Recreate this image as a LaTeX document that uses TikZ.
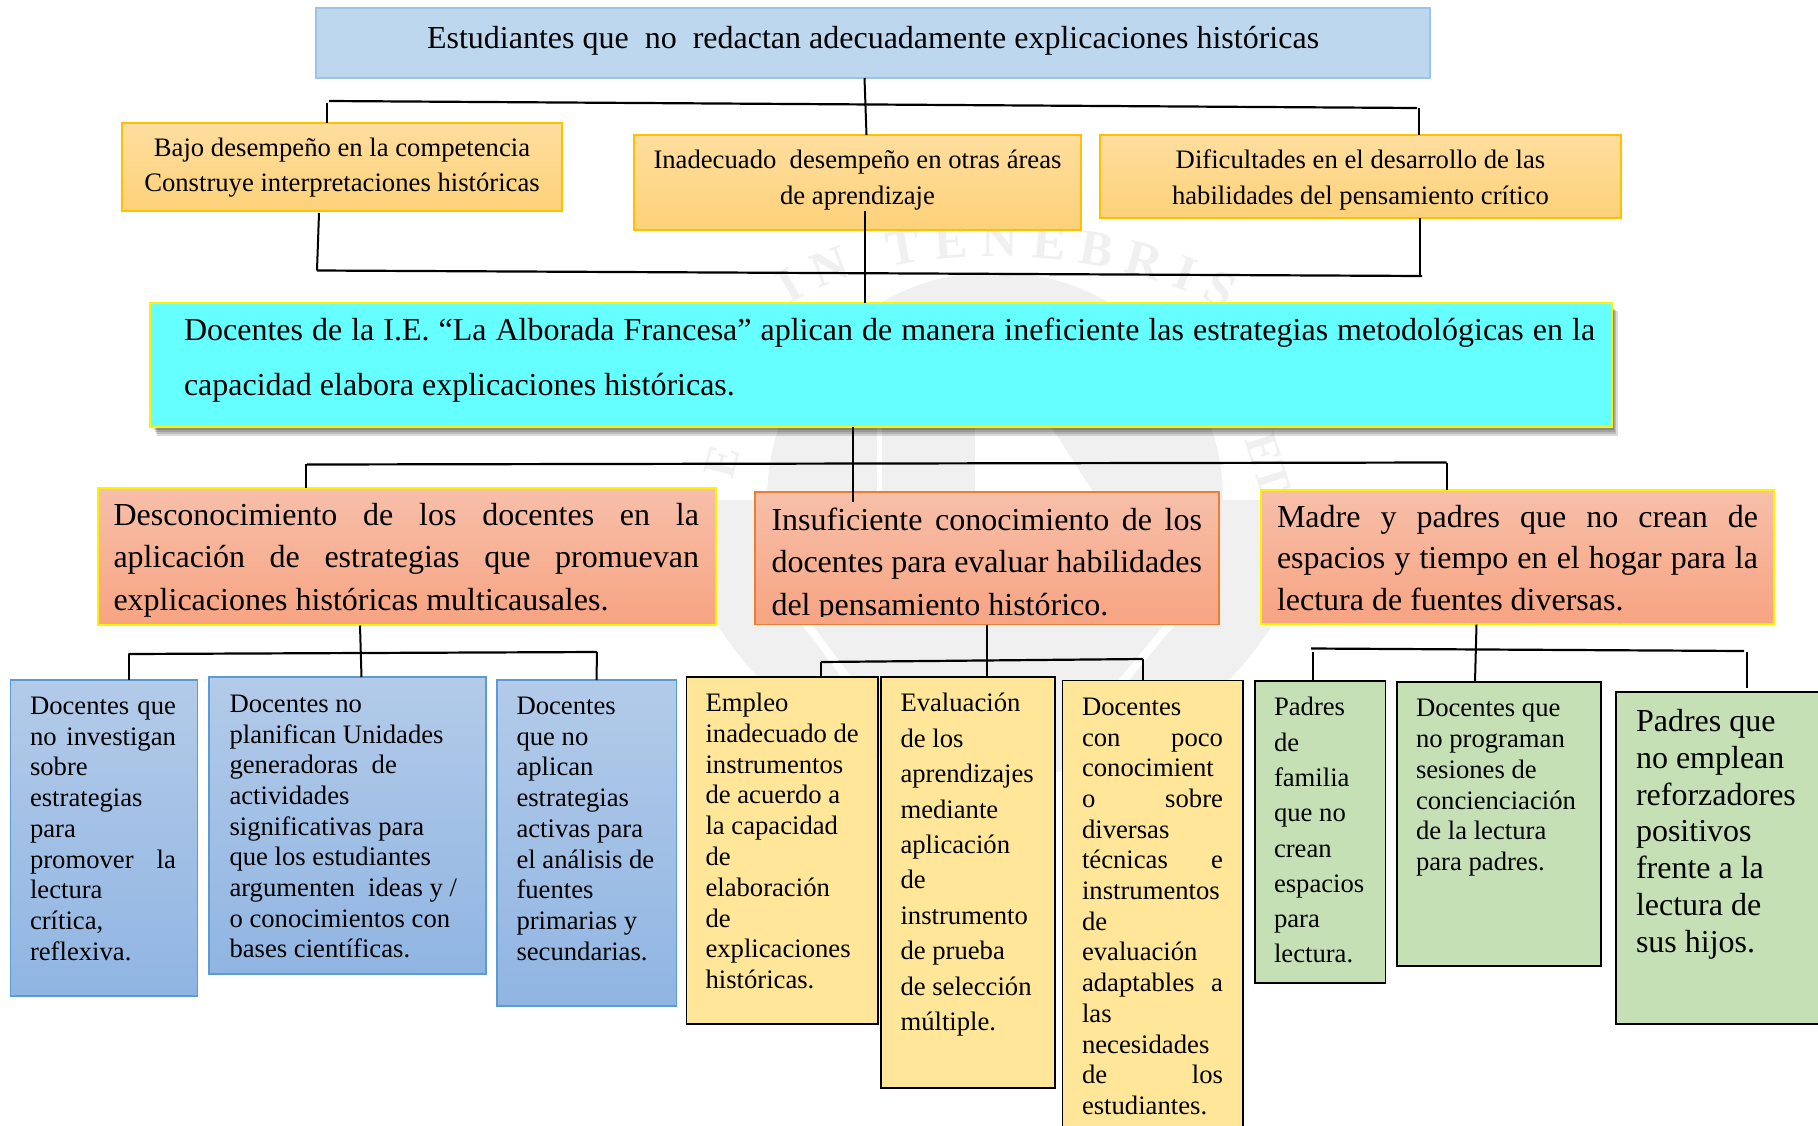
\documentclass[tikz,border=0pt]{standalone}
\usepackage{fontspec}
\setmainfont{Liberation Serif}
\usetikzlibrary{decorations.text}
\definecolor{wm}{HTML}{F0F0F0}
\definecolor{topfill}{HTML}{BDD7EE}
\definecolor{topline}{HTML}{9DC3E6}
\definecolor{orT}{HTML}{FEDE9E}
\definecolor{orB}{HTML}{FDD179}
\definecolor{orL}{HTML}{FFC000}
\definecolor{saT}{HTML}{F7BFA9}
\definecolor{saB}{HTML}{F7A482}
\definecolor{saL}{HTML}{ED7D31}
\definecolor{blT}{HTML}{B3CBE9}
\definecolor{blB}{HTML}{90B5E2}
\definecolor{blL}{HTML}{5B9BD5}
\definecolor{yeF}{HTML}{FFE699}
\definecolor{grF}{HTML}{C5E0B4}
\definecolor{cyF}{HTML}{66FFFF}
\tikzset{
  every node/.style={inner sep=0pt,outer sep=0pt},
  bx/.style={rectangle,anchor=north west},
  bxtop/.style={bx,fill=topfill,draw=topline,line width=2.5pt},
  bxor/.style={bx,top color=orT,bottom color=orB,draw=orL,line width=1.2pt},
  bxcy/.style={bx,fill=cyF,draw=yellow,line width=2pt},
  bxsy/.style={bx,top color=saT,bottom color=saB,draw=yellow,line width=2pt},
  bxso/.style={bx,top color=saT,bottom color=saB,draw=saL,line width=1.2pt},
  bxbl/.style={bx,top color=blT,bottom color=blB,draw=blL,line width=1.2pt},
  bxye/.style={bx,fill=yeF,draw=black,line width=1.8pt},
  bxgr/.style={bx,fill=grF,draw=black,line width=1.8pt},
  conn/.style={draw=black,line width=2pt,line cap=butt},
  rail/.style={draw=black,line width=2.2pt},
  tx/.style={anchor=base west,text=black},
  seal/.style={text=wm,font=\fontsize{46}{46}\selectfont\bfseries}
}
\newcommand{\bxn}[6]{%
  \pgfmathsetmacro{\bw}{#5-#3}\pgfmathsetmacro{\bh}{#6-#4}%
  \node[#1,minimum width=\bw pt,minimum height=\bh pt] (#2) at (#3,#4) {};}
\newcommand{\txn}[7]{%
  \node[tx] (#1) at (#2,#3) {\vtop{\hsize=#4pt\parindent=0pt\fontsize{#5}{#6}\selectfont #7}};}
\newcommand{\txl}[1]{\hbox{#1}}
\newcommand{\txj}[1]{\hbox to\hsize{#1}}
\newcommand{\txc}[1]{\hbox to\hsize{\hfil #1\hfil}}
\begin{document}
\begin{tikzpicture}[x=1pt,y=-1pt]
\useasboundingbox (0,0) rectangle (1818,1125);
\clip (0,0) rectangle (1818,1125);
\fill[white] (0,0) rectangle (1818,1125);
% faint seal
\fill[wm] (995,500) circle (228);
\begin{scope}
\clip (600,500) rectangle (1400,800);
\fill[wm] (995,450) circle (328);
\end{scope}
\draw[white,line width=5pt] (879,425) -- (879,500);
\fill[white] (975,425) -- (1050,425) -- (1095,495) -- (975,495) -- cycle;
\draw[white,line width=8pt] (805,622) -- (850,682);
\draw[white,line width=8pt] (1172,622) -- (1122,682);
\path[decorate,decoration={text along path,text align=fit to path,
  text={|\fontsize{50}{50}\selectfont\bfseries\color{wm}|IN TENEBRIS}}]
  (790,305) .. controls (890,240) and (1100,240) .. (1225,310);
\node[seal,rotate=75] (sealE) at (722,462) {E};
\node[seal,rotate=-72] (sealET) at (1268,464) {ET};
% shadow of the main box
\foreach \s in {1,3,5,7,9}{
  \fill[black,opacity=0.14] (152+\s/2,306+\s/2) rectangle (1612+\s/1.6,427+\s);
}
% boxes
\bxn{bxtop}{top}{316}{8}{1430}{78}
\bxn{bxor}{bajo}{122}{123}{562}{211}
\bxn{bxor}{inad}{634}{135}{1081}{230}
\bxn{bxor}{difi}{1100}{135}{1621}{218}
\bxn{bxcy}{doce}{149.5}{303}{1612}{427}
\bxn{bxsy}{desc}{97.5}{488}{716}{624.5}
\bxn{bxso}{insu}{755}{492}{1219}{624.5}
\bxn{bxsy}{madr}{1261}{490}{1774}{623.5}
\bxn{bxbl}{bA}{10.5}{680}{197.5}{996}
\bxn{bxbl}{bB}{209}{677}{486}{974}
\bxn{bxbl}{bC}{497}{680}{676.5}{1006}
\bxn{bxye}{yA}{686.5}{677}{878}{1024}
\bxn{bxye}{yB}{881}{677}{1055}{1088}
\bxn{bxye}{yC}{1062.5}{680.5}{1243}{1140}
\bxn{bxgr}{gA}{1255}{681}{1385.5}{983}
\bxn{bxgr}{gB}{1397}{682}{1601}{966}
\bxn{bxgr}{gC}{1616}{692}{1835}{1024}
% rail end points
\coordinate (r1a) at (329,101); \coordinate (r1b) at (1417,108);
\coordinate (r1c) at (327,102.5); \coordinate (r1d) at (1419,108);
\coordinate (r2a) at (317,270.5); \coordinate (r2b) at (1422,276);
\coordinate (r3a) at (307,464.5); \coordinate (r3b) at (1446.5,462.5);
\coordinate (r4a) at (128.5,654); \coordinate (r4b) at (597,652);
\coordinate (r5a) at (821,662); \coordinate (r5b) at (1143,659);
\coordinate (r6a) at (1311,648.5); \coordinate (r6b) at (1744,651);
\coordinate (r6c) at (1313,652); \coordinate (r6d) at (1747,652);
% connectors: top level
\draw[rail] (r1a) -- (r1b);
\draw[conn] (top.south -| 864.5,0) -- (inad.north -| 866.5,0);
\draw[conn] (r1c) -- (bajo.north -| r1c);
\draw[conn] (r1d) -- (difi.north -| r1d);
% connectors: second level
\draw[rail] (r2a) -- (r2b);
\draw[conn] (319,213) -- (r2a);
\draw[conn] (1420,218) -- (1420,275);
\draw[conn] (864.5,211) -- (doce.north -| 864.5,0);
% connectors: third level
\draw[rail] (r3a) -- (r3b);
\draw[conn] (853,427) -- (853,502);
\draw[conn] (305.5,463.5) -- (desc.north -| 305.5,0);
\draw[conn] (r3b) -- (madr.north -| r3b);
% connectors: fourth level
\draw[rail] (r4a) -- (r4b);
\draw[conn] (360,625.5) -- (361.5,677);
\draw[conn] (r4a) -- (bA.north -| r4a);
\draw[conn] (r4b) -- (596.5,680);
\draw[rail] (r5a) -- (r5b);
\draw[conn] (insu.south -| 986.5,0) -- (986.5,678);
\draw[conn] (r5a) -- (yA.north -| r5a);
\draw[conn] (r5b) -- (yC.north -| r5b);
\draw[rail] (r6a) -- (r6b);
\draw[conn] (1476.5,624.5) -- (1475,682);
\draw[conn] (r6c) -- (gA.north -| r6c);
\draw[conn] (r6d) -- (1747,688);
% texts
\txn{ttop}{427}{48}{900}{32}{38}{\txl{Estudiantes que\ \ no\ \ redactan adecuadamente explicaciones históricas}}
\txn{tbajo}{122}{156}{440}{26.67}{35}{\txc{Bajo desempeño en la competencia}\txc{Construye interpretaciones históricas}}
\txn{tinad}{634}{168}{447}{26.67}{36}{\txc{Inadecuado\ \ desempeño en otras áreas}\txc{de aprendizaje}}
\txn{tdifi}{1100}{168}{521}{26.67}{36}{\txc{Dificultades en el desarrollo de las}\txc{habilidades del pensamiento crítico}}
\txn{tdoce}{184}{340}{1411}{32}{55}{\txj{Docentes de la I.E. “La Alborada Francesa” aplican de manera ineficiente las estrategias metodológicas en la}\txl{capacidad elabora explicaciones históricas.}}
\txn{tdesc}{113.5}{525}{585.5}{32}{42.6}{\txj{Desconocimiento de los docentes en la}\txj{aplicación de estrategias que promuevan}\txl{explicaciones históricas multicausales.}}
\begin{scope}
\clip (755,492) rectangle (1219,616);
\txn{tinsu}{771.5}{530}{430.5}{32}{42.8}{\txj{Insuficiente conocimiento de los}\txj{docentes para evaluar habilidades}\txl{del pensamiento histórico.}}
\end{scope}
\txn{tmadr}{1277}{527}{481}{32}{41.8}{\txj{Madre y padres que no crean de}\txj{espacios y tiempo en el hogar para la}\txl{lectura de fuentes diversas.}}
\txn{tbA}{30}{714.5}{146}{26.67}{30.7}{\txj{Docentes que}\txj{no investigan}\txl{sobre}\txl{estrategias}\txl{para}\txj{promover la}\txl{lectura}\txl{crítica,}\txl{reflexiva.}}
\txn{tbB}{229.5}{712.3}{240}{26.67}{30.7}{\txl{Docentes no}\txl{planifican Unidades}\txl{generadoras\ \ de}\txl{actividades}\txl{significativas para}\txl{que los estudiantes}\txl{argumenten\ \ ideas y /}\txl{o conocimientos con}\txl{bases científicas.}}
\txn{tbC}{516.5}{714.5}{150}{26.67}{30.7}{\txl{Docentes}\txl{que no}\txl{aplican}\txl{estrategias}\txl{activas para}\txl{el análisis de}\txl{fuentes}\txl{primarias y}\txl{secundarias.}}
\txn{tyA}{705.5}{711.5}{165}{26.67}{30.8}{\txl{Empleo}\txl{inadecuado de}\txl{instrumentos}\txl{de acuerdo a}\txl{la capacidad}\txl{de}\txl{elaboración}\txl{de}\txl{explicaciones}\txl{históricas.}}
\txn{tyB}{900.5}{711.8}{150}{26.67}{35.4}{\txl{Evaluación}\txl{de los}\txl{aprendizajes}\txl{mediante}\txl{aplicación}\txl{de}\txl{instrumento}\txl{de prueba}\txl{de selección}\txl{múltiple.}}
\txn{tyC}{1082}{715.3}{141}{26.67}{30.7}{\txl{Docentes}\txj{con poco}\txl{conocimient}\txj{o sobre}\txl{diversas}\txj{técnicas e}\txl{instrumentos}\txl{de}\txl{evaluación}\txj{adaptables a}\txl{las}\txl{necesidades}\txj{de los}\txl{estudiantes.}}
\txn{tgA}{1274}{715.8}{105}{26.67}{35.3}{\txl{Padres}\txl{de}\txl{familia}\txl{que no}\txl{crean}\txl{espacios}\txl{para}\txl{lectura.}}
\txn{tgB}{1416}{716.6}{175}{26.67}{30.8}{\txl{Docentes que}\txl{no programan}\txl{sesiones de}\txl{concienciación}\txl{de la lectura}\txl{para padres.}}
\txn{tgC}{1636}{731.2}{175}{32}{36.9}{\txl{Padres que}\txl{no emplean}\txl{reforzadores}\txl{positivos}\txl{frente a la}\txl{lectura de}\txl{sus hijos.}}
\end{tikzpicture}
\end{document}
